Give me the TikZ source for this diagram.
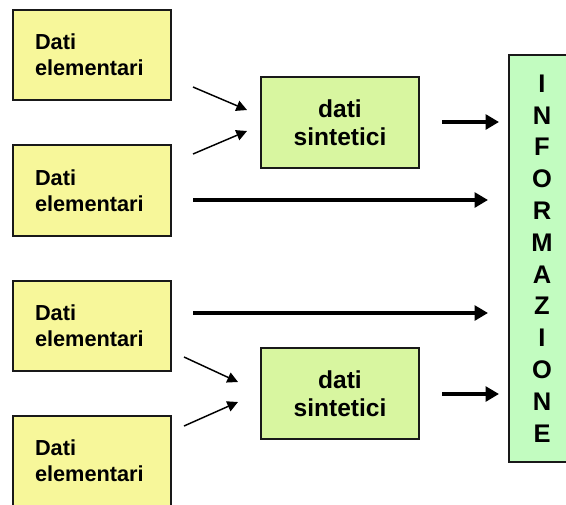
\documentclass[tikz,border=0pt]{standalone}
\usepackage{fontspec}
\setmainfont{Liberation Sans}
\usetikzlibrary{arrows.meta}
\definecolor{datayellow}{HTML}{F7F79A}
\definecolor{synthgreen}{HTML}{D8F6A0}
\definecolor{infogreen}{HTML}{C2FCC0}
\begin{document}
\begin{tikzpicture}[x=0.75pt,y=-0.75pt,
  databox/.style={draw=black!90, line width=1.5pt, fill=datayellow,
    minimum width=118.5pt, minimum height=68pt, text width=85.5pt,
    inner xsep=16.5pt, align=left,
    font=\fontsize{16.3}{19.3}\selectfont\bfseries},
  synthbox/.style={draw=black!90, line width=1.5pt, fill=synthgreen,
    minimum width=118.5pt, minimum height=68.3pt, align=center,
    font=\fontsize{18.4}{21}\selectfont\bfseries},
  infobox/.style={draw=black!90, line width=1.5pt, fill=infogreen,
    minimum width=49.5pt, minimum height=305pt, align=center,
    font=\fontsize{19.1}{23.85}\selectfont\bfseries},
  thinarrow/.style={line width=1.1pt, -{Triangle[length=8pt,width=8pt]}},
  thickarrow/.style={line width=3.2pt, -{Triangle[length=10pt,width=11pt]}}
]
\useasboundingbox (0,0) rectangle (566,504);

% data sources
\node[databox] (d1) at (92,55) {Dati\\elementari};
\node[databox] (d2) at (92,190.5) {Dati\\elementari};
\node[databox] (d3) at (92,326) {Dati\\elementari};
\node[databox] (d4) at (92,461) {Dati\\elementari};

% aggregated data
\node[synthbox] (s1) at (340,122.5) {dati\\sintetici};
\node[synthbox] (s2) at (340,393.5) {dati\\sintetici};

% information column
\node[infobox] (info) at (542,258.5) {I\\N\\F\\O\\R\\M\\A\\Z\\I\\O\\N\\E};

% arrow end points
\coordinate (a1s) at (193,87);  \coordinate (a1e) at (247,110);
\coordinate (a2s) at (193,154); \coordinate (a2e) at (247,131);
\coordinate (a3s) at (184,357); \coordinate (a3e) at (238,382);
\coordinate (a4s) at (184,426); \coordinate (a4e) at (238,402);
\coordinate (b1s) at (193,200); \coordinate (b1e) at (488,200);
\coordinate (b2s) at (193,313); \coordinate (b2e) at (488,313);
\coordinate (c1s) at (442,122); \coordinate (c1e) at (499,122);
\coordinate (c2s) at (442,394); \coordinate (c2e) at (499,394);

% connectors
\draw[thinarrow] (a1s) -- (a1e);
\draw[thinarrow] (a2s) -- (a2e);
\draw[thinarrow] (a3s) -- (a3e);
\draw[thinarrow] (a4s) -- (a4e);
\draw[thickarrow] (b1s) -- (b1e);
\draw[thickarrow] (b2s) -- (b2e);
\draw[thickarrow] (c1s) -- (c1e);
\draw[thickarrow] (c2s) -- (c2e);
\end{tikzpicture}
\end{document}
